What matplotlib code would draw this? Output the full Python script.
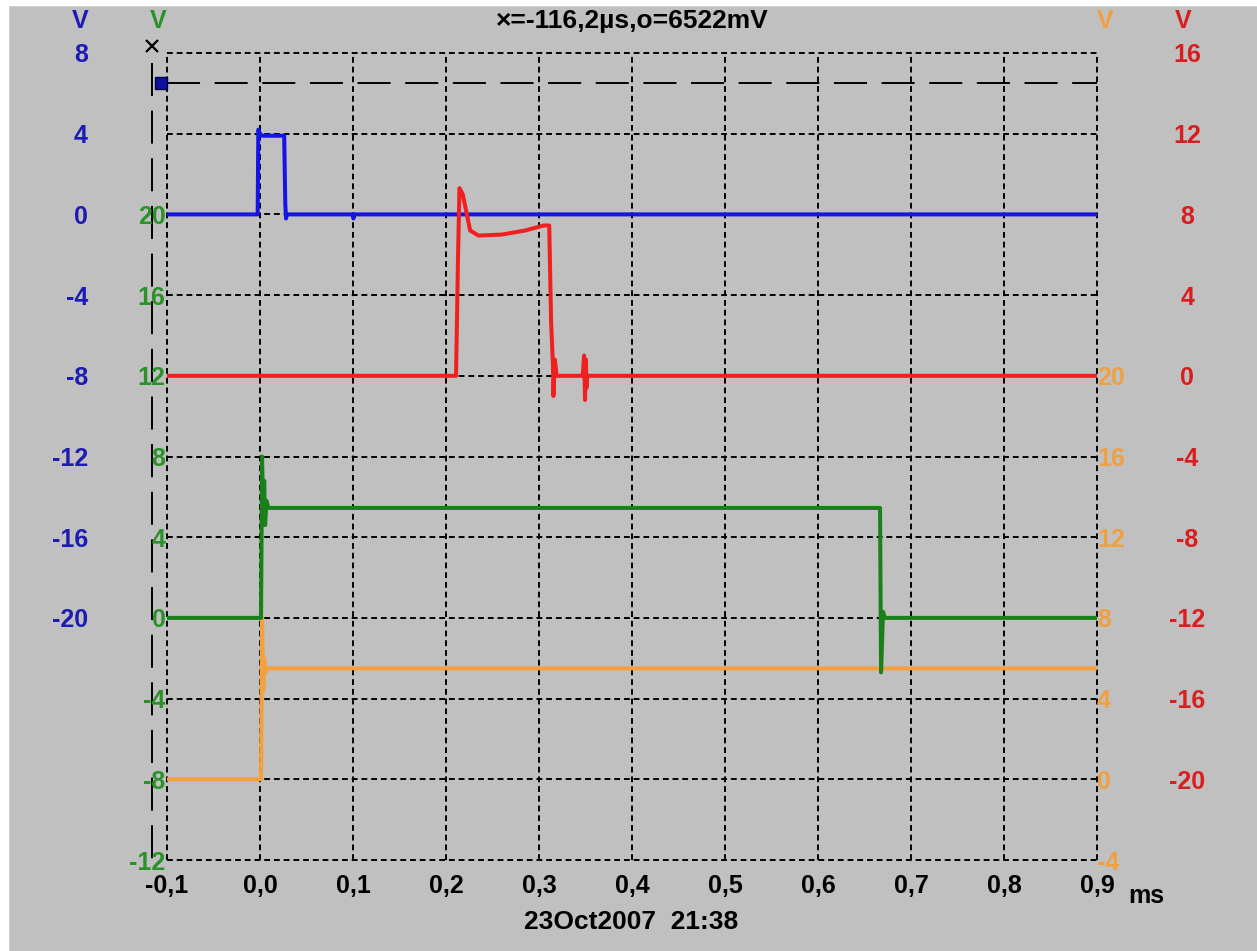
import matplotlib
matplotlib.use('Agg')
import matplotlib.pyplot as plt
from matplotlib.patches import Rectangle

plt.rcParams['font.family'] = ['Liberation Sans', 'DejaVu Sans']
plt.rcParams['font.weight'] = 'bold'

# 时间轴 (ms)
x_ticks = [-0.1, 0.0, 0.1, 0.2, 0.3, 0.4, 0.5, 0.6, 0.7, 0.8, 0.9]
x_labels = ['-0,1', '0,0', '0,1', '0,2', '0,3', '0,4', '0,5', '0,6', '0,7', '0,8', '0,9']

# 各通道刻度
blue_ticks = [8, 4, 0, -4, -8, -12, -16, -20, -24, -28, -32]
blue_labels = ['8', '4', '0', '-4', '-8', '-12', '-16', '-20', '', '', '']
green_ticks = [20, 16, 12, 8, 4, 0, -4, -8, -12]
red_ticks = [16, 12, 8, 4, 0, -4, -8, -12, -16, -20]
orange_ticks = [20, 16, 12, 8, 4, 0, -4]

# 蓝色通道
blue_t = [-0.1, -0.0025, -0.0018, 0.0, 0.002, 0.026, 0.0272, 0.028, 0.029, 0.1, 0.1005, 0.101, 0.9]
blue_v = [0, 0, 4.2, 4.0, 3.9, 3.9, 0.5, -0.2, 0, 0, -0.2, 0, 0]

# 红色通道
red_t = [-0.1, 0.2108, 0.2129, 0.2145, 0.218, 0.226, 0.235, 0.26, 0.285, 0.305, 0.311,
         0.313, 0.315, 0.3155, 0.317, 0.319, 0.347, 0.3485, 0.3495, 0.3505, 0.351, 0.352, 0.9]
red_v = [0, 0, 5.8, 9.3, 9.0, 7.2, 6.95, 7.0, 7.2, 7.45, 7.45,
         2.7, 0.5, -1.0, 0.8, 0, 0, 1.0, -1.2, 0.8, -0.6, 0, 0]

# 绿色通道
green_t = [-0.1, 0.0011, 0.0022, 0.0035, 0.0045, 0.0055, 0.007, 0.009, 0.6667, 0.6678, 0.6699, 0.672, 0.9]
green_v = [0, 0, 8.0, 5.0, 6.8, 4.6, 5.8, 5.45, 5.45, -2.7, 0.3, 0, 0]

# 橙色通道
orange_t = [-0.1, 0.0011, 0.0022, 0.0035, 0.0045, 0.006, 0.008, 0.9]
orange_v = [0, 0, 8.0, 4.4, 6.0, 5.3, 5.5, 5.5]

# 光标
cursor_x = -0.1162
cursor_o = 6.522

BG = '#c0c0c0'
W, H = 1257, 951
fig = plt.figure(figsize=(W / 100, H / 100), dpi=100, facecolor=BG)
fig.patches.append(Rectangle((0, 1 - 5 / H), 1, 5 / H, transform=fig.transFigure, color='white', zorder=0))
fig.patches.append(Rectangle((0, 0), 8 / W, 1, transform=fig.transFigure, color='white', zorder=0))

left, right, top, bottom = 167, 1097, 53, 860
ax = fig.add_axes([left / W, 1 - bottom / H, (right - left) / W, (bottom - top) / H])
ax.set_facecolor(BG)
ax.set_xlim(-0.1, 0.9)
ax.set_ylim(-32, 8)

ax_o = ax.twinx()
ax_g = ax.twinx()
ax_r = ax.twinx()
ax_g.set_ylim(-12, 28)
ax_o.set_ylim(-4, 36)
ax_r.set_ylim(-24, 16)

for a in (ax, ax_o, ax_g, ax_r):
    for s in a.spines.values():
        s.set_visible(False)
    a.tick_params(length=0)
for a in (ax_o, ax_g, ax_r):
    a.patch.set_visible(False)

fs = 18
ax.set_xticks(x_ticks)
ax.set_xticklabels(x_labels, fontsize=fs, fontweight='bold', color='black')
ax.tick_params(axis='x', pad=10)

ax.set_yticks(blue_ticks)
ax.set_yticklabels(blue_labels, fontsize=fs, fontweight='bold', color='#1c1cb4')
ax.tick_params(axis='y', pad=57)

ax_g.yaxis.tick_left()
ax_g.set_yticks(green_ticks)
ax_g.set_yticklabels([str(v) for v in green_ticks], fontsize=fs, fontweight='bold', color='#2a9228')
ax_g.tick_params(axis='y', pad=1)

ax_o.set_yticks(orange_ticks)
ax_o.set_yticklabels([str(v) for v in orange_ticks], fontsize=fs, fontweight='bold', color='#f0a040')
ax_o.tick_params(axis='y', pad=0)

ax_r.set_yticks(red_ticks)
ax_r.set_yticklabels([str(v) for v in red_ticks], fontsize=fs, fontweight='bold', color='#d81e1e')
ax_r.tick_params(axis='y', pad=65)
for lab in ax_r.get_yticklabels():
    lab.set_horizontalalignment('center')

# 网格
ax.grid(True, color='black', linestyle=(0, (3, 2)), linewidth=1.4)
for gl in ax.get_xgridlines() + ax.get_ygridlines():
    gl.set_clip_on(False)

# 光标线
ax.plot([cursor_x, cursor_x], [7.5, -32], color='black', lw=1.4, linestyle=(0, (17, 7.5)), clip_on=False)
ax.plot([-0.1, 0.9], [cursor_o, cursor_o], color='black', lw=1.4, linestyle=(0, (17, 7.5)), clip_on=False)
ax.plot([-0.10645], [cursor_o], marker='s', ms=8, color='#1010a0', mec='#000040', clip_on=False)
ax.plot([cursor_x], [8.35], marker='x', ms=8, mew=1.6, color='black', clip_on=False)

# 波形
lw = 2.9
ax.plot(blue_t, blue_v, color='#1414e6', lw=lw)
ax_o.plot(orange_t, orange_v, color='#f5a03c', lw=lw)
ax_g.plot(green_t, green_v, color='#1a801a', lw=lw)
ax_r.plot(red_t, red_v, color='#f02020', lw=lw)

# 文字
def px(xp, yp):
    return xp / W, 1 - yp / H

fig.text(*px(632, 21), '×=-116,2µs,o=6522mV', fontsize=19, fontweight='bold', ha='center', va='center')
fig.text(*px(631, 922), '23Oct2007  21:38', fontsize=19, fontweight='bold', ha='center', va='center')
fig.text(*px(1128, 903), 'ms', fontsize=fs, fontweight='bold', ha='left', va='baseline')
fig.text(*px(80, 21), 'V', fontsize=fs, fontweight='bold', color='#1c1cb4', ha='center', va='center')
fig.text(*px(158, 21), 'V', fontsize=fs, fontweight='bold', color='#2a9228', ha='center', va='center')
fig.text(*px(1105, 21), 'V', fontsize=fs, fontweight='bold', color='#f0a040', ha='center', va='center')
fig.text(*px(1183, 21), 'V', fontsize=fs, fontweight='bold', color='#d81e1e', ha='center', va='center')

fig.savefig('out.png', dpi=100, facecolor=BG)
